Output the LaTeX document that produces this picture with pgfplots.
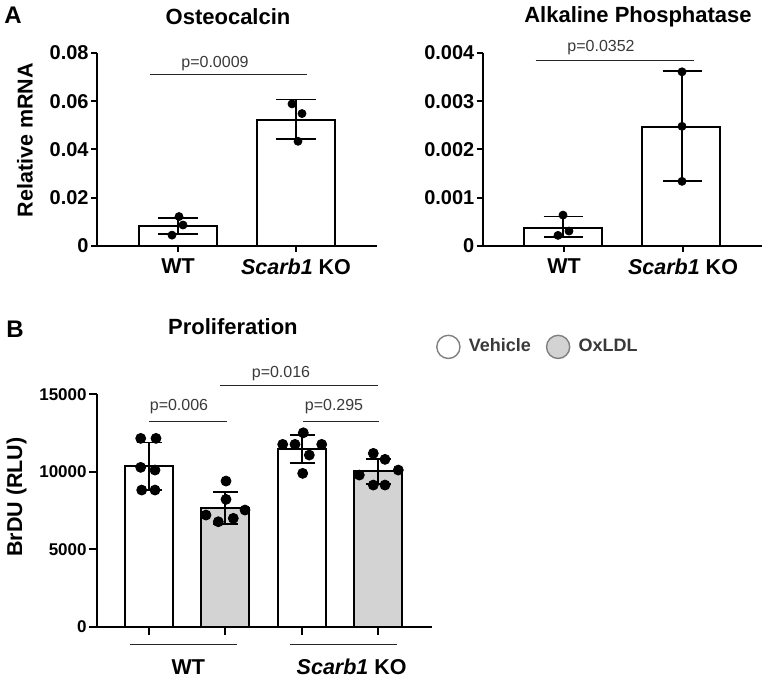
\documentclass[border=0pt]{standalone}
\usepackage{pgfplots}
\pgfplotsset{compat=1.18}
\usepackage{fontspec}
\setmainfont{Liberation Sans}
\definecolor{barGray}{HTML}{D3D3D3}
\definecolor{pGray}{HTML}{3A3A3A}
\newcommand{\fs}[1]{\fontsize{#1}{#1}\selectfont}
\tikzset{
  pval/.style={font=\fs{8}, text=pGray},
  pline/.style={line width=0.5pt, black!85},
}
\pgfplotsset{
  myaxis/.style={
    scale only axis, anchor=south west, clip=false,
    axis x line*=bottom, axis y line*=left,
    axis line style={line width=1pt, black},
    tick style={line width=1pt, black},
    tick align=outside, major tick length=3pt,
    scaled y ticks=false,
    ymin=0,
    ylabel style={font=\fs{10.75}\bfseries, anchor=center},
    every axis title/.style={at={(0.5,1)}, anchor=center, font=\fs{11}\bfseries},
    xticklabel style={font=\fs{10.75}\bfseries},
    yticklabel style={font=\fs{10}\bfseries, inner sep=1pt},
  },
  ebar/.style={draw=none, mark=none, forget plot,
    error bars/.cd, y dir=both, y explicit,
    error bar style={draw=black, line width=0.9pt},
    error mark options={rotate=90, mark size=#1, draw=black, line width=0.9pt}},
  dots/.style={only marks, mark=*, mark size=2pt, black, forget plot},
  bars/.style={ybar, draw=black, line width=0.9pt, forget plot},
}
\begin{document}
\begin{tikzpicture}
\useasboundingbox (0,0) rectangle (385pt,339.5pt);
\node[font=\fs{12}\bfseries] at (6.5pt,332pt) {A};
\node[font=\fs{12}\bfseries] at (7.5pt,175pt) {B};

% ---------- Osteocalcin ----------
\begin{axis}[myaxis, at={(48.5pt,216.5pt)}, width=140pt, height=96.5pt,
  xmin=97, xmax=377, ymax=0.08,
  xtick={178,296}, xticklabels={WT,\textit{Scarb1} KO},
  ytick={0,0.02,0.04,0.06,0.08}, yticklabels={0,0.02,0.04,0.06,0.08},
  ylabel={Relative mRNA}, ylabel style={at={(axis description cs:-0.257,0.549)}},
  title={Osteocalcin}, title style={at={(axis description cs:0.468,1.187)}}]
\addplot[bars, fill=white, bar width=78] coordinates {(178,0.0083) (296,0.0521)};
\addplot[ebar=10pt] coordinates {(178,0.0083) += (0,0.0032) -= (0,0.0034)
  (296,0.0521) += (0,0.0086) -= (0,0.0077)};
\addplot[dots] coordinates {(179,0.0122)(183,0.0087)(172,0.0045)
  (292,0.0589)(302,0.0549)(298,0.0434)};
\draw[pline] (axis cs:150,0.0712) -- (axis cs:307,0.0712);
\node[pval] at (axis cs:215,0.0757) {p=0.0009};
\end{axis}

% ---------- Alkaline Phosphatase ----------
\begin{axis}[myaxis, at={(241.35pt,216.5pt)}, width=139.65pt, height=96.5pt,
  xmin=482.7, xmax=762, ymax=0.004,
  xtick={564,683}, xticklabels={WT,\textit{Scarb1} KO},
  ytick={0,0.001,0.002,0.003,0.004}, yticklabels={0,0.001,0.002,0.003,0.004},
  title={Alkaline Phosphatase}, title style={at={(axis description cs:0.556,1.187)}}]
\addplot[bars, fill=white, bar width=78] coordinates {(563,0.00038) (681,0.00246)};
\addplot[ebar=9.75pt] coordinates {(563,0.00038) += (0,0.00023) -= (0,0.0002)
  (682,0.00246) += (0,0.00116) -= (0,0.00112)};
\addplot[dots] coordinates {(563,0.00064)(569,0.00031)(558,0.00022)
  (682,0.00361)(682,0.00248)(682,0.00134)};
\draw[pline] (axis cs:535.7,0.00385) -- (axis cs:694,0.00385);
\node[pval] at (axis cs:601,0.00412) {p=0.0352};
\end{axis}

% ---------- Proliferation ----------
\begin{axis}[myaxis, at={(48.5pt,26.15pt)}, width=167.35pt, height=116.2pt,
  xmin=97, xmax=431.7, ymax=15000, major tick length=4pt,
  xtick={149,225,302,378}, xticklabels={},
  ytick={0,5000,10000,15000}, yticklabels={0,5000,10000,15000},
  yticklabel style={font=\fs{8.5}\bfseries},
  ylabel={BrDU (RLU)}, ylabel style={at={(axis description cs:-0.24,0.558)}},
  title={Proliferation}, title style={at={(axis description cs:0.406,1.29)}},
  legend image code/.code={\draw[#1] (5.8pt,0pt) circle (5.8pt); \path[draw=none,fill=none] (0pt,0pt) -- (14pt,0pt);},
  legend style={draw=none, fill=none, at={(1.32,1.204)}, anchor=center,
    font=\fs{9}\bfseries, text=pGray,
    /tikz/every even column/.append style={column sep=5.5pt}},
  legend columns=2]
\addplot[bars, fill=white, bar width=48] coordinates {(149,10390) (302,11460)};
\addplot[bars, fill=barGray, bar width=48] coordinates {(225,7640) (378,10030)};
\addplot[ebar=6.25pt] coordinates {(149,10390) += (0,1500) -= (0,1570)
  (225,7640) += (0,1070) -= (0,1030)
  (302,11460) += (0,900) -= (0,870)
  (378,10030) += (0,800) -= (0,800)};
\addplot[dots, mark size=2.5pt] coordinates {
  (140.7,12155)(156,12155)(140.7,10284)(155,10110)(141.7,8819)(155,8819)
  (226,9400)(226,8219)(206,7206)(245,7529)(218.3,6774)(233.3,6994)
  (303.3,12516)(282.7,11768)(295,11768)(321.7,11768)(309.3,11077)(302.7,9897)
  (373.3,11187)(385,10800)(398.3,10110)(359.3,9787)(373.3,9142)(385,9142)};
\draw[pline] (axis cs:149,13226) -- (axis cs:227,13226);
\node[pval] at (axis cs:179,14194) {p=0.006};
\draw[pline] (axis cs:220,15548) -- (axis cs:378,15548);
\node[pval] at (axis cs:281,16348) {p=0.016};
\draw[pline] (axis cs:303,13226) -- (axis cs:379,13226);
\node[pval] at (axis cs:334,14194) {p=0.295};
\draw[pline] (axis cs:130,-1181) -- (axis cs:236.7,-1181);
\draw[pline] (axis cs:290,-1181) -- (axis cs:397.3,-1181);
\node[font=\fs{10.75}\bfseries] at (axis cs:188.3,-2581) {WT};
\node[font=\fs{10.75}\bfseries] at (axis cs:351.7,-2581) {\textit{Scarb1} KO};
\addlegendimage{draw=gray, fill=white, line width=0.7pt}
\addlegendentry{Vehicle}
\addlegendimage{draw=gray, fill=barGray, line width=0.7pt}
\addlegendentry{OxLDL}
\end{axis}
\end{tikzpicture}
\end{document}
